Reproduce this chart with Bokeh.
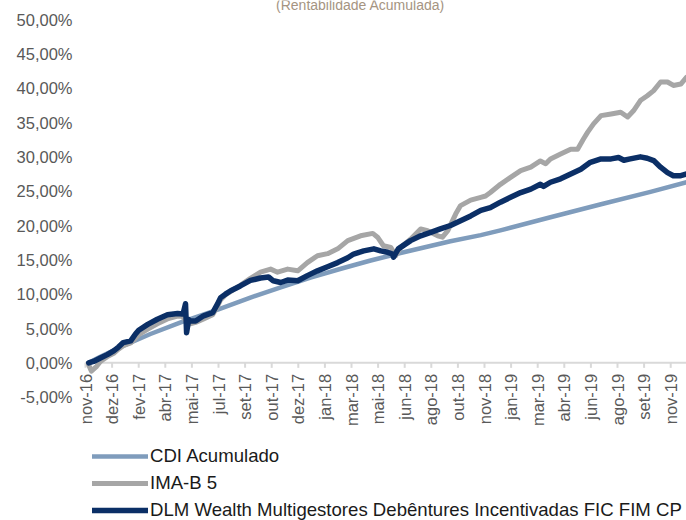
import math
from bokeh.plotting import figure
from bokeh.models import Range1d, FixedTicker, Legend, LegendItem
from bokeh.core.properties import value
from bokeh.embed import file_html
from bokeh.resources import INLINE

# ---- data (days since start of chart, accumulated return in %) ----
tick_days = [0, 50, 100, 150, 200, 250, 300, 350, 400, 450, 500, 550, 600,
             650, 700, 750, 800, 850, 900, 950, 1000, 1050, 1100]
tick_labels = ["nov-16", "dez-16", "fev-17", "abr-17", "mai-17", "jul-17",
               "set-17", "out-17", "dez-17", "jan-18", "mar-18", "mai-18",
               "jun-18", "ago-18", "out-18", "nov-18", "jan-19", "mar-19",
               "abr-19", "jun-19", "ago-19", "set-19", "nov-19"]
y_ticks = [-5, 0, 5, 10, 15, 20, 25, 30, 35, 40, 45, 50]

cdi_days = [6, 28, 66, 122, 179, 235, 250, 310, 367, 423, 480, 536, 592,
            686, 743, 780, 874, 969, 1062, 1130]
cdi_vals = [0.0, 0.9, 2.3, 4.2, 5.9, 7.4, 7.8, 9.5, 11.0, 12.4, 13.7, 14.9,
            16.0, 17.7, 18.6, 19.3, 21.2, 23.1, 24.9, 26.3]

imab_days = [6, 11, 21, 28, 41, 53, 62, 71, 85, 94, 100, 117, 135, 154, 173,
             182, 190, 197, 207, 222, 239, 248, 254, 263, 273, 291, 310, 329,
             348, 361, 380, 399, 417, 436, 455, 474, 493, 517, 540, 549, 560,
             574, 583, 592, 611, 630, 643, 662, 671, 681, 696, 705, 724, 743,
             752, 761, 780, 799, 818, 837, 855, 865, 874, 893, 912, 925, 936,
             944, 955, 969, 988, 1006, 1019, 1030, 1043, 1056, 1068, 1081,
             1094, 1105, 1119, 1130]
imab_vals = [-0.3, -1.2, -0.5, 0.2, 0.9, 1.4, 2.0, 2.5, 2.9, 3.6, 4.1, 4.9,
             5.7, 6.4, 6.8, 6.8, 6.0, 5.7, 5.9, 6.4, 7.0, 8.2, 9.2, 9.9, 10.4,
             11.3, 12.3, 13.2, 13.65, 13.2, 13.65, 13.4, 14.6, 15.6, 15.9,
             16.6, 17.8, 18.5, 18.85, 18.3, 17.05, 16.8, 15.6, 16.8, 18.0,
             19.5, 19.25, 18.5, 18.3, 19.25, 21.7, 22.9, 23.7, 24.1, 24.3,
             24.8, 26.0, 27.0, 28.0, 28.5, 29.4, 29.0, 29.7, 30.4, 31.1, 31.1,
             32.6, 33.6, 34.8, 36.0, 36.25, 36.5, 35.8, 36.7, 38.2, 38.9,
             39.65, 40.9, 40.9, 40.4, 40.6, 41.6]

dlm_days = [6, 15, 28, 41, 53, 62, 71, 85, 94, 100, 117, 135, 154, 173, 182,
            184, 188, 190, 194, 197, 207, 222, 239, 248, 254, 263, 273, 291,
            310, 329, 344, 353, 367, 380, 399, 417, 436, 455, 474, 493, 504,
            523, 542, 555, 568, 577, 579, 588, 611, 630, 649, 667, 686, 705,
            724, 743, 761, 780, 799, 818, 837, 855, 861, 874, 893, 912, 931,
            949, 969, 988, 1002, 1012, 1024, 1043, 1056, 1068, 1081, 1094,
            1105, 1119, 1130]
dlm_vals = [0.0, 0.2, 0.7, 1.2, 1.75, 2.3, 2.95, 3.2, 4.2, 4.75, 5.6, 6.35,
            7.0, 7.2, 7.1, 7.3, 8.6, 4.4, 6.3, 6.1, 6.1, 6.85, 7.3, 8.55, 9.5,
            10.0, 10.5, 11.2, 12.0, 12.35, 12.5, 11.95, 11.7, 12.05, 11.95,
            12.7, 13.4, 14.0, 14.6, 15.3, 15.85, 16.3, 16.6, 16.3, 16.1,
            15.85, 15.4, 16.6, 17.8, 18.5, 19.0, 19.5, 20.0, 20.7, 21.4, 22.2,
            22.6, 23.4, 24.1, 24.8, 25.3, 26.0, 25.7, 26.3, 26.8, 27.5, 28.2,
            29.2, 29.7, 29.7, 29.9, 29.5, 29.7, 30.0, 29.8, 29.45, 28.5, 27.7,
            27.25, 27.25, 27.5]

series_names = ["CDI Acumulado", "IMA-B 5",
                "DLM Wealth Multigestores Debêntures Incentivadas FIC FIM CP"]
series_colors = ["#7f9cbc", "#a6a6a6", "#0b2f66"]
title_text = "(Rentabilidade Acumulada)"

FONT = "Liberation Sans"
LABEL_COLOR = "#595959"
FS = "16.5px"

# layout constants (pixels)
W, H = 686, 520
LEFT = 70
PX_PER_DAY = 0.532
PX_PER_PCT = 6.867
X0_PX = 85            # pixel column of day 0
Y50_PX = 19           # pixel row of the 50% value
x_start = -(X0_PX - LEFT) / PX_PER_DAY
x_end = x_start + (W - LEFT) / PX_PER_DAY
y_end = 50 + Y50_PX / PX_PER_PCT
y_start = y_end - H / PX_PER_PCT

p = figure(width=W, height=H, output_backend="svg", toolbar_location=None,
           x_range=Range1d(x_start, x_end), y_range=Range1d(y_start, y_end),
           x_axis_location=None,
           min_border_left=LEFT, min_border_right=0, min_border_top=0,
           min_border_bottom=0)
p.outline_line_color = None
p.grid.visible = False
p.background_fill_color = "white"
p.border_fill_color = "white"

# title (partly cut at the top, as in the reference)
p.text(x=[(360 - X0_PX) / PX_PER_DAY], y=[y_end - 4 / PX_PER_PCT], text=[title_text],
       text_align="center", text_baseline="alphabetic", text_font=value(FONT),
       text_font_size="14px", text_color="#a59482")

# x axis line, ticks and labels at zero
p.segment(x0=[tick_days[0]], y0=[0], x1=[x_end], y1=[0],
          line_color="#d9d9d9", line_width=2)
p.segment(x0=tick_days, y0=[0] * len(tick_days), x1=tick_days,
          y1=[-5 / PX_PER_PCT] * len(tick_days),
          line_color="#d9d9d9", line_width=2)
p.text(x=tick_days, y=[0] * len(tick_days), text=tick_labels,
       angle=math.pi / 2, y_offset=11, text_align="right",
       text_baseline="middle", text_font=value(FONT), text_font_size=FS,
       text_color=LABEL_COLOR)

r_cdi = p.line(cdi_days, cdi_vals, line_color=series_colors[0], line_width=4.5,
               line_cap="round", line_join="round")
r_imab = p.line(imab_days, imab_vals, line_color=series_colors[1], line_width=5,
                line_cap="round", line_join="round")
r_dlm = p.line(dlm_days, dlm_vals, line_color=series_colors[2], line_width=5.5,
               line_cap="round", line_join="round")

# y axis
ya = p.yaxis[0]
ya.ticker = FixedTicker(ticks=y_ticks)
ya.major_label_overrides = {t: f"{t:.2f}".replace(".", ",") + "%" for t in y_ticks}
ya.axis_line_color = None
ya.major_tick_line_color = None
ya.minor_tick_line_color = None
ya.major_tick_out = 0
ya.major_tick_in = 0
ya.major_label_standoff = -2
ya.major_label_text_font = FONT
ya.major_label_text_font_size = FS
ya.major_label_text_color = LABEL_COLOR

legend = Legend(items=[LegendItem(label=series_names[0], renderers=[r_cdi]),
                       LegendItem(label=series_names[1], renderers=[r_imab]),
                       LegendItem(label=series_names[2], renderers=[r_dlm])],
                location=(22, -1), orientation="vertical",
                glyph_width=56, glyph_height=20, label_height=20, spacing=5,
                label_standoff=2, padding=0, margin=0,
                border_line_color=None, background_fill_alpha=0,
                label_text_font=FONT, label_text_font_size="18.6px",
                label_text_color="#1a1a1a")
p.add_layout(legend)

open("out.html", "w").write(file_html(p, INLINE))
